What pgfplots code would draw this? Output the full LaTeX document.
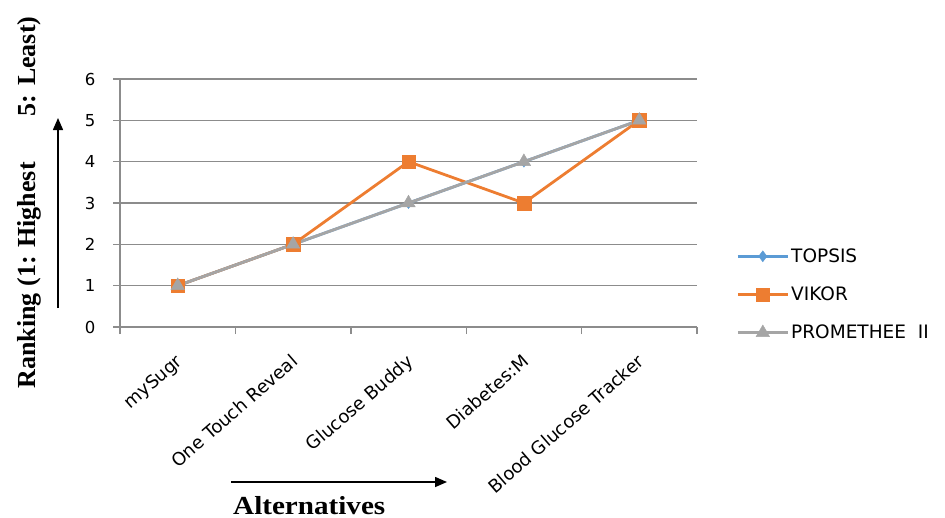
\documentclass[border=0pt]{standalone}
\usepackage{fontspec}
\usepackage{pgfplots}
\pgfplotsset{compat=1.18}
\usetikzlibrary{arrows.meta}
\setmainfont{Liberation Serif}
\setsansfont{DejaVu Sans}
\definecolor{topsis}{HTML}{5B9BD5}
\definecolor{vikor}{HTML}{ED7D31}
\definecolor{prom}{HTML}{A5A5A5}
\definecolor{gridc}{HTML}{8C8C8C}
\begin{document}
\begin{tikzpicture}[x=1pt,y=1pt]
\useasboundingbox (0,0) rectangle (945,-517);
\begin{axis}[
  at={(120pt,-327pt)}, anchor=south west,
  scale only axis, width=577pt, height=248pt,
  xmin=-0.5, xmax=4.5, ymin=0, ymax=6,
  axis x line*=bottom, axis y line*=left,
  axis line style={gridc, line width=1.4pt},
  xtick={0,...,4},
  xticklabels={mySugr, One Touch Reveal, Glucose Buddy, Diabetes:M, Blood Glucose Tracker},
  minor xtick={-0.5,0.5,...,4.5},
  ytick={0,...,6},
  ymajorgrids,
  grid style={gridc, line width=1.4pt},
  tick align=outside,
  major tick length=7pt, minor tick length=7pt,
  tick style={gridc, line width=1.4pt},
  major x tick style={draw=none},
  /pgf/number format/assume math mode=true,
  yticklabel style={font=\sffamily\fontsize{16.5}{18}\selectfont, xshift=-14pt},
  xticklabel style={font=\sffamily\fontsize{18}{20}\selectfont, inner sep=0pt, anchor=north east, xshift=-3pt, yshift=-19pt, rotate=41},
  legend style={at={(1.068,0.131)}, anchor=west, draw=none, fill=none, inner xsep=0pt, inner ysep=0pt,
    font=\sffamily\fontsize{18.5}{20}\selectfont, row sep=19pt, cells={anchor=west}},
  legend image code/.code={\draw[mark repeat=2,mark phase=2,#1] plot coordinates {(0pt,0pt) (25pt,0pt) (50pt,0pt)};},
]
\addplot[topsis, line width=2.8pt, mark=diamond*, mark size=5.5pt, mark options={solid, line width=0.4pt}] coordinates {(0,1) (1,2) (2,3) (3,4) (4,5)};
\addplot[vikor, line width=2.8pt, mark=square*, mark size=6.8pt, mark options={solid, line width=0.4pt}] coordinates {(0,1) (1,2) (2,4) (3,3) (4,5)};
\addplot[prom, line width=2.8pt, mark=triangle*, mark size=7.8pt, mark options={solid, line width=0.4pt}] coordinates {(0,1) (1,2) (2,3) (3,4) (4,5)};
\legend{TOPSIS, VIKOR, PROMETHEE\ \ II}
\end{axis}
\node[rotate=90, font=\bfseries\fontsize{26}{28}\selectfont] at (29,-202.5) {Ranking (1: Highest\hspace{46pt}5: Least)};
\draw[line width=1.5pt, -{Triangle[length=12pt,width=10pt]}] (58,-308) -- (58,-118);
\draw[line width=1.5pt, -{Triangle[length=12pt,width=10pt]}] (231,-482) -- (447,-482);
\node[anchor=base west, inner sep=0pt, xscale=1.12, font=\bfseries\fontsize{26}{28}\selectfont] at (233,-514) {Alternatives};
\end{tikzpicture}
\end{document}
